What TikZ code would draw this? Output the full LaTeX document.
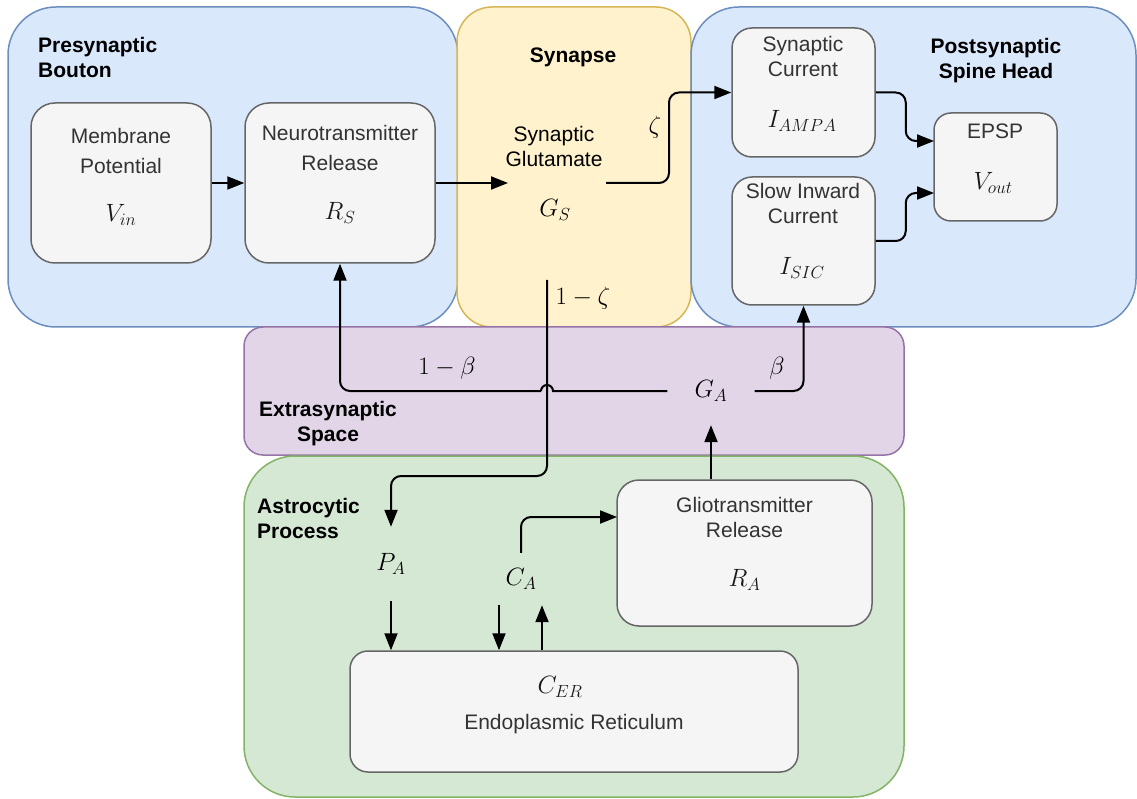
\RequirePackage{fix-cm}
\documentclass[tikz,border=0pt]{standalone}
\usepackage{fontspec}
\setmainfont{Liberation Sans}
\usetikzlibrary{arrows.meta,calc}
\definecolor{bluef}{HTML}{DAE8FC}\definecolor{blues}{HTML}{6C8EBF}
\definecolor{yelf}{HTML}{FFF2CC}\definecolor{yels}{HTML}{D6B656}
\definecolor{purf}{HTML}{E1D5E7}\definecolor{purs}{HTML}{9673A6}
\definecolor{grnf}{HTML}{D5E8D4}\definecolor{grns}{HTML}{82B366}
\definecolor{boxf}{HTML}{F5F5F5}\definecolor{boxd}{HTML}{666666}
\definecolor{txtc}{HTML}{333333}
\begin{document}
\begin{tikzpicture}[x=1pt,y=-1pt,
  cont/.style={line width=1.5pt},
  ibox/.style={draw=boxd, fill=boxf, line width=1.5pt, rounded corners=#1, inner sep=0pt},
  ibox/.default=20pt,
  txt/.style={font=\fontsize{21}{25}\selectfont, text=txtc, align=center, inner sep=0pt},
  txtw/.style={font=\fontsize{21}{30}\selectfont, text=txtc, align=center, inner sep=0pt},
  mth/.style={font=\fontsize{25}{30}\selectfont, text=black!90, inner sep=0pt},
  lab/.style={font=\fontsize{25}{30}\selectfont, text=black, inner sep=0pt},
  ttl/.style={font=\fontsize{21}{25}\selectfont\bfseries, text=black, inner sep=0pt},
  arr/.style={-{Triangle[length=17pt,width=13pt]}, line width=2pt},
  ln/.style={line width=2pt},
  rc/.style={rounded corners=10pt}]
\useasboundingbox (0,0) rectangle (1137,799);
% containers
\draw[cont, draw=blues, fill=bluef, rounded corners=48pt] (8,7) rectangle (458,327);
\draw[cont, draw=yels, fill=yelf, rounded corners=35pt] (457,7) rectangle (691,327);
\draw[cont, draw=blues, fill=bluef, rounded corners=48pt] (691,7) rectangle (1136,327);
\draw[cont, draw=purs, fill=purf, rounded corners=19pt] (244,327) rectangle (904,455);
\draw[cont, draw=grns, fill=grnf, rounded corners=51pt] (244,456) rectangle (904,797);
% container titles
\node[ttl, anchor=west, align=left] (tpre) at (38,57.5) {Presynaptic\\Bouton};
\node[ttl] (tsyn) at (573,57) {Synapse};
\node[ttl, align=center] (tpost) at (996,61) {Postsynaptic\\Spine Head};
\node[ttl, align=center] (text) at (328,424) {Extrasynaptic\\Space};
\node[ttl, anchor=west, align=left] (tast) at (257,518) {Astrocytic\\Process};
% inner boxes
\node[ibox=24pt, minimum width=180pt, minimum height=160pt] (vin) at (121,183) {};
\node[ibox=24pt, minimum width=190pt, minimum height=160pt] (rs) at (340,183) {};
\node[ibox=20pt, minimum width=143pt, minimum height=129pt] (iampa) at (803.5,92.5) {};
\node[ibox=20pt, minimum width=143pt, minimum height=128pt] (isic) at (803.5,241) {};
\node[ibox=17pt, minimum width=123pt, minimum height=108pt] (epsp) at (995.5,167) {};
\node[ibox=22pt, minimum width=255pt, minimum height=146pt] (glio) at (744.5,553) {};
\node[ibox=18pt, minimum width=448pt, minimum height=121pt] (er) at (574,711.5) {};
% inner texts
\node[txtw] (vint) at (121,151) {Membrane\\Potential};
\node[mth] (vinm) at (121,215) {$V_{in}$};
\node[txtw] (rst) at (340,148) {Neurotransmitter\\Release};
\node[mth] (rsm) at (340,213) {$R_S$};
\node[txt] (iampat) at (803,56.5) {Synaptic\\Current};
\node[mth] (iampam) at (802,121) {$I_{AMPA}$};
\node[txt] (isict) at (803,203.5) {Slow Inward\\Current};
\node[mth] (isicm) at (802,268) {$I_{SIC}$};
\node[txt] (epspt) at (995,131) {EPSP};
\node[mth] (epspm) at (993,183) {$V_{out}$};
\node[txt] (gliot) at (744.5,517.5) {Gliotransmitter\\Release};
\node[mth] (gliom) at (744.5,580) {$R_A$};
\node[mth] (erm) at (560,687) {$C_{ER}$};
\node[txt] (ert) at (574,724) {Endoplasmic Reticulum};
% free variables
\node[txt, text=black] (gst) at (554,146.5) {Synaptic\\Glutamate};
\node[lab] (gsm) at (555,210) {$G_S$};
\node[lab, minimum width=87pt, minimum height=68pt] (ga) at (711,391) {$G_A$};
\node[lab, minimum height=74pt] (pa) at (391,564) {$P_A$};
\node[lab, minimum height=52pt] (ca) at (521,579) {$C_A$};
% edge labels
\node[lab] (lz) at (655,127) {$\zeta$};
\node[lab] (l1z) at (583,298) {$1-\zeta$};
\node[lab] (l1b) at (447,368) {$1-\beta$};
\node[lab] (lb) at (777,368) {$\beta$};
% coordinates
\coordinate (gsin) at (508,183);
\coordinate (gsout) at (606,183);
\coordinate (zs) at (547,280);
\coordinate (zturn) at (547,476);
\coordinate (jr) at (553,391);
\coordinate (jl) at (541,391);
\coordinate (e1) at (934,141);
\coordinate (e2) at (934,193);
\coordinate (glin) at (617,517);
% connectors
\draw[arr] (vin.east) -- (rs.west);
\draw[arr] (rs.east) -- (gsin);
\draw[arr, rc] (gsout) -- ++(63,0) |- (iampa.west);
\draw[arr, rc] (iampa.east) -- ++(30,0) |- (e1);
\draw[arr, rc] (isic.east) -- ++(30,0) |- (e2);
\draw[arr, rc] (zs) -- (zturn) -| (pa.north);
\draw[ln] (ga.west) -- (jr) arc[start angle=0, end angle=180, radius=6pt];
\draw[arr, rc] (jl) -| (rs.south);
\draw[arr, rc] (ga.east) -| (isic.south);
\draw[arr] (ga.south |- glio.north) -- (ga.south);
\draw[arr, rc] (ca.north) |- (glin);
\draw[arr] (pa.south) -- (pa.south |- er.north);
\draw[arr] ([xshift=-22pt]ca.south) -- ([xshift=-22pt]ca.south |- er.north);
\draw[arr] ([xshift=21pt]ca.south |- er.north) -- ([xshift=21pt]ca.south);
\end{tikzpicture}
\end{document}
